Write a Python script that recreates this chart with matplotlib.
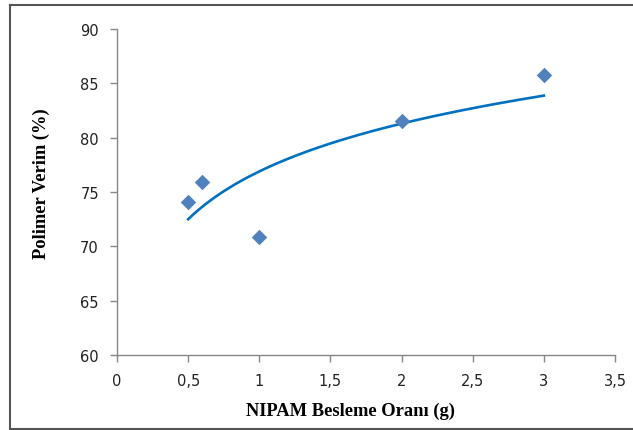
import numpy as np
import matplotlib
matplotlib.use("Agg")
import matplotlib.pyplot as plt
from matplotlib.lines import Line2D
from matplotlib.ticker import FuncFormatter

plt.rcParams["font.family"] = ["DejaVu Sans"]

x_vals = [0.5, 0.6, 1.0, 2.0, 3.0]
y_vals = [74.1, 75.9, 70.9, 81.5, 85.8]
x_ticks = [0, 0.5, 1, 1.5, 2, 2.5, 3, 3.5]
y_ticks = [60, 65, 70, 75, 80, 85, 90]

W, H = 633, 431
fig = plt.figure(figsize=(W / 100, H / 100), dpi=100)
ax = fig.add_axes([117 / W, 1 - 356 / H, (615 - 117) / W, (356 - 30) / H])

# logarithmic trendline fitted to the data
b, a = np.polyfit(np.log(x_vals), y_vals, 1)
xt = np.linspace(min(x_vals), max(x_vals), 200)
ax.plot(xt, a + b * np.log(xt), color="#0070C0", lw=1.9, zorder=2)
ax.scatter(x_vals, y_vals, marker="D", s=62, color="#4F81BD", zorder=3, linewidths=0)

ax.set_xlim(0, 3.5)
ax.set_ylim(60, 90)
ax.set_xticks(x_ticks)
ax.set_yticks(y_ticks)
ax.xaxis.set_major_formatter(FuncFormatter(lambda v, p: ("%g" % v).replace(".", ",")))
for s in ["top", "right"]:
    ax.spines[s].set_visible(False)
for s in ["left", "bottom"]:
    ax.spines[s].set_color("#888888")
    ax.spines[s].set_linewidth(1.0)
ax.tick_params(axis="both", color="#888888", length=5, width=1, labelsize=10.5,
               labelcolor="#222222", direction="out")
for lab in ax.get_xticklabels() + ax.get_yticklabels():
    lab.set_family("DejaVu Sans")
ax.tick_params(axis="y", pad=8)
ax.tick_params(axis="x", pad=8)

fig.text(41 / W, 1 - 184 / H, "Polimer Verim (%)", rotation=90, ha="center", va="center",
         family="Liberation Serif", fontweight="bold", fontsize=13.3)
fig.text(351 / W, 1 - 411 / H, "NIPAM Besleme Oranı (g)", ha="center", va="center",
         family="Liberation Serif", fontweight="bold", fontsize=13.3)

# outer frame (left, top, bottom)
c = "#555555"
fig.add_artist(Line2D([9.5 / W, 9.5 / W], [1 - 6 / H, 1 - 430 / H], color=c, lw=1.5, transform=fig.transFigure))
fig.add_artist(Line2D([9.5 / W, 1], [1 - 6 / H, 1 - 6 / H], color=c, lw=1.5, transform=fig.transFigure))
fig.add_artist(Line2D([9.5 / W, 1], [1 - 430 / H, 1 - 430 / H], color=c, lw=1.5, transform=fig.transFigure))

fig.savefig("out.png", dpi=100)
